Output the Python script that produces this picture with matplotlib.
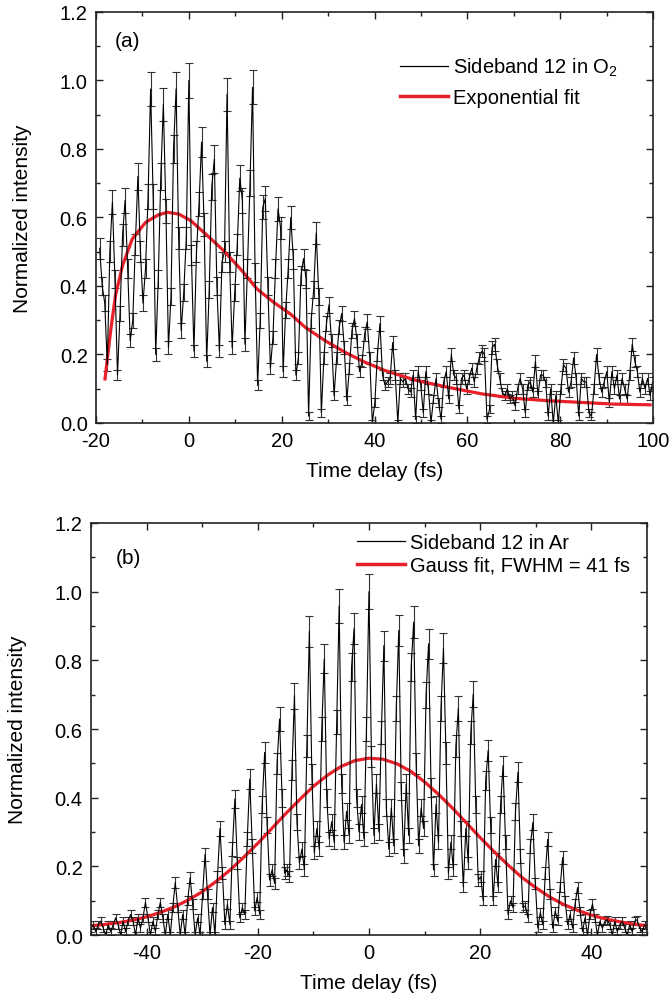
import numpy as np
import matplotlib
matplotlib.use('Agg')
import matplotlib.pyplot as plt
from matplotlib.lines import Line2D
from matplotlib.ticker import MultipleLocator

plt.rcParams['font.family'] = ['Liberation Sans', 'DejaVu Sans']
plt.rcParams['mathtext.fontset'] = 'custom'
plt.rcParams['mathtext.rm'] = 'Liberation Sans'
plt.rcParams['axes.unicode_minus'] = False

# ---- panel (a): sideband 12 in O2, one row per oscillation period ----
step_a = 0.549   # fs between delay points
zero_a = 35      # index of t = 0
sig_a = [
    0.51, 0.40, 0.35, 0.17, 0.50,
    0.645, 0.42, 0.14, 0.32, 0.55,
    0.65, 0.45, 0.24, 0.30, 0.52,
    0.72, 0.50, 0.35, 0.45, 0.66,
    0.975, 0.66, 0.20, 0.42, 0.72,
    0.93, 0.62, 0.22, 0.37, 0.80,
    0.975, 0.54, 0.27, 0.38, 0.54,
    1.00, 0.49, 0.21, 0.50, 0.64,
    0.82, 0.58, 0.18, 0.39, 0.69,
    0.77, 0.40, 0.21, 0.47, 0.50,
    0.96, 0.47, 0.22, 0.38, 0.52,
    0.715, 0.65, 0.23, 0.45, 0.70,
    0.98, 0.44, 0.11, 0.30, 0.63,
    0.655, 0.40, 0.16, 0.25, 0.45,
    0.625, 0.57, 0.15, 0.33, 0.45,
    0.60, 0.48, 0.14, 0.19, 0.43,
    0.48, 0.42, 0.02, 0.30, 0.39,
    0.555, 0.37, 0.03, 0.19, 0.29,
    0.345, 0.24, 0.08, 0.19, 0.28,
    0.32, 0.22, 0.065, 0.16, 0.27,
    0.305, 0.24, 0.15, 0.18, 0.26,
    0.295, 0.19, 0.0, 0.06, 0.20,
    0.29, 0.14, 0.11, 0.12, 0.13,
    0.235, 0.14, 0.0, 0.13, 0.12,
    # noisy tail, t > 46 fs
    0.13, 0.10, 0.09, 0.14, 0.01, 0.15, 0.11, 0.03, 0.15, 0.10,
    0.0, 0.07, 0.13, 0.06, 0.01, 0.12, 0.15, 0.07, 0.20, 0.14,
    0.13, 0.04, 0.13, 0.14, 0.10, 0.13, 0.16, 0.12, 0.16, 0.19,
    0.21, 0.20, 0.01, 0.04, 0.22, 0.23, 0.17, 0.13, 0.09, 0.08,
    0.10, 0.07, 0.08, 0.05, 0.10, 0.13, 0.10, 0.03, 0.11, 0.12,
    0.09, 0.18, 0.08, 0.14, 0.14, 0.12, 0.02, 0.10, 0.0, 0.08,
    0.0, 0.10, 0.17, 0.16, 0.09, 0.12, 0.19, 0.13, 0.02, 0.13,
    0.12, 0.12, 0.03, 0.02, 0.10, 0.20, 0.13, 0.09, 0.12, 0.15,
    0.06, 0.15, 0.10, 0.14, 0.07, 0.13, 0.10, 0.07, 0.14, 0.23,
    0.18, 0.15, 0.09, 0.13, 0.10, 0.13, 0.08, 0.12,
]
fit_a_t = [-18.1, -16.8, -15.8, -14.3, -12.2, -9.3, -6.5, -4.6, -2.2, 0.4,
           4.0, 7.5, 11.1, 14.7, 18.3, 21.9, 25.1, 29.4, 33.7, 38.0,
           42.3, 48.8, 55.9, 63.1, 70.3, 77.4, 84.6, 91.8, 99.7]
fit_a_y = [0.124, 0.274, 0.372, 0.459, 0.537, 0.586, 0.608, 0.615, 0.610, 0.591,
           0.547, 0.503, 0.450, 0.391, 0.352, 0.318, 0.279, 0.240, 0.206, 0.177,
           0.153, 0.125, 0.104, 0.085, 0.072, 0.065, 0.060, 0.055, 0.053]

# ---- panel (b): sideband 12 in Ar ----
step_b = 0.4467
zero_b = 112
sig_b = [
    0.02, 0.03, 0.01, 0.03,
    0.04, 0.02, 0.0, 0.03, 0.01, 0.03,
    0.05, 0.03, 0.0, 0.04, 0.01, 0.04,
    0.06, 0.04, 0.0, 0.05, 0.02, 0.05,
    0.095, 0.05, 0.0, 0.04, 0.01, 0.06,
    0.095, 0.05, 0.0, 0.06, 0.0, 0.08,
    0.153, 0.08, 0.0, 0.06, 0.0, 0.10,
    0.167, 0.09, 0.0, 0.05, 0.0, 0.12,
    0.235, 0.12, 0.0, 0.08, 0.0, 0.17,
    0.31, 0.18, 0.03, 0.09, 0.03, 0.25,
    0.396, 0.21, 0.05, 0.08, 0.06, 0.28,
    0.454, 0.26, 0.07, 0.11, 0.06, 0.38,
    0.532, 0.32, 0.16, 0.19, 0.15, 0.50,
    0.629, 0.40, 0.18, 0.19, 0.17, 0.48,
    0.697, 0.33, 0.21, 0.25, 0.19, 0.55,
    0.884, 0.47, 0.24, 0.31, 0.25, 0.60,
    0.804, 0.40, 0.28, 0.33, 0.27, 0.62,
    0.958, 0.44, 0.27, 0.36, 0.29, 0.78,
    0.892, 0.40, 0.30, 0.38, 0.28, 0.60,
    1.00, 0.52, 0.29, 0.44, 0.30, 0.59,
    0.843, 0.37, 0.25, 0.37, 0.26, 0.66,
    0.887, 0.42, 0.23, 0.44, 0.29, 0.78,
    0.911, 0.50, 0.26, 0.37, 0.31, 0.70,
    0.848, 0.43, 0.19, 0.38, 0.27, 0.66,
    0.835, 0.53, 0.18, 0.27, 0.19, 0.55,
    0.660, 0.31, 0.14, 0.31, 0.21, 0.59,
    0.702, 0.38, 0.16, 0.17, 0.10, 0.45,
    0.537, 0.32, 0.10, 0.22, 0.14, 0.38,
    0.493, 0.27, 0.06, 0.10, 0.08, 0.36,
    0.474, 0.23, 0.08, 0.085, 0.05, 0.26,
    0.328, 0.15, 0.02, 0.065, 0.03, 0.18,
    0.279, 0.12, 0.02, 0.07, 0.04, 0.14,
    0.226, 0.10, 0.03, 0.06, 0.02, 0.09,
    0.138, 0.07, 0.01, 0.05, 0.0, 0.06,
    0.09, 0.05, 0.0, 0.04, 0.02, 0.04,
    0.045, 0.03, 0.0, 0.04, 0.01, 0.03,
    0.04, 0.02, 0.0, 0.03, 0.01, 0.04,
    0.045, 0.02, 0.01, 0.03, 0.02,
]
fit_b_t = [-50, -47.5, -45, -42.5, -40, -37.5, -35, -32.5, -30, -27.5, -25,
           -22.5, -20, -17.5, -15, -12.5, -10, -7.5, -5, -2.5, 0, 2.5, 5,
           7.5, 10, 12.5, 15, 17.5, 20, 22.5, 25, 27.5, 30, 32.5, 35, 37.5,
           40, 42.5, 45, 47.5, 50]
fit_b_y = [0.027, 0.031, 0.036, 0.043, 0.053, 0.066, 0.082, 0.102, 0.126, 0.156,
           0.189, 0.227, 0.267, 0.310, 0.353, 0.394, 0.433, 0.465, 0.491, 0.508,
           0.515, 0.512, 0.499, 0.477, 0.446, 0.410, 0.370, 0.327, 0.284, 0.243,
           0.204, 0.168, 0.138, 0.111, 0.089, 0.072, 0.058, 0.047, 0.039, 0.032,
           0.027]

# error bars: small floor plus a relative part
err_floor = 0.01
err_rel = 0.04

RED = '#e8202a'


def draw(ax, t, y, ft, fy, labels, xlim, tag, leg_xy, leg_space):
    y = np.asarray(y)
    err = err_floor + err_rel * y
    ax.errorbar(t, y, yerr=err, color='black', lw=0.8, ecolor='#333333',
                elinewidth=0.8, capsize=3, capthick=0.8)
    ax.plot(ft, fy, color=RED, lw=2.3, solid_capstyle='butt')
    ax.set_xlim(*xlim)
    ax.set_ylim(0, 1.2)
    ax.xaxis.set_major_locator(MultipleLocator(20))
    ax.xaxis.set_minor_locator(MultipleLocator(10))
    ax.yaxis.set_major_locator(MultipleLocator(0.2))
    ax.yaxis.set_minor_locator(MultipleLocator(0.1))
    ax.yaxis.set_major_formatter(plt.FuncFormatter(lambda v, p: f'{v:.1f}'))
    ax.tick_params(which='both', direction='in', top=True, right=True,
                   labelsize=14.5, width=1.0, color='#222222')
    ax.tick_params(which='major', length=5)
    ax.tick_params(which='minor', length=3)
    ax.tick_params(axis='y', pad=6)
    ax.tick_params(axis='x', pad=6)
    for s in ax.spines.values():
        s.set_linewidth(1.2)
        s.set_color('#222222')
    ax.set_xlabel('Time delay (fs)', fontsize=15, labelpad=8)
    ax.set_ylabel('Normalized intensity', fontsize=15, labelpad=20)
    ax.text(tag[1], tag[2], tag[0], transform=ax.transAxes, fontsize=15,
            va='center', ha='left')
    handles = [Line2D([], [], color='black', lw=0.9),
               Line2D([], [], color=RED, lw=2.5)]
    ax.legend(handles, labels, loc='upper left', bbox_to_anchor=leg_xy,
              frameon=False, borderaxespad=0, borderpad=0, handlelength=2.4,
              handletextpad=0.25, labelspacing=leg_space, fontsize=14.5)


t_a = (np.arange(len(sig_a)) - zero_a) * step_a
t_b = (np.arange(len(sig_b)) - zero_b) * step_b

fig = plt.figure(figsize=(6.69, 10.04), dpi=100)
ax_a = fig.add_axes([0.1435, 0.5777, 0.8326, 0.4094])
ax_b = fig.add_axes([0.136, 0.0677, 0.831, 0.4104])

draw(ax_a, t_a, sig_a, fit_a_t, fit_a_y,
     ['Sideband 12 in O$_\\mathregular{2}$', 'Exponential fit'],
     (-20, 100), ('(a)', 0.034, 0.93), (0.546, 0.893), 0.48)
draw(ax_b, t_b, sig_b, fit_b_t, fit_b_y,
     ['Sideband 12 in Ar', 'Gauss fit, FWHM = 41 fs'],
     (-50, 50), ('(b)', 0.045, 0.917), (0.478, 0.976), 0.2)

fig.savefig('out.png', dpi=100)
